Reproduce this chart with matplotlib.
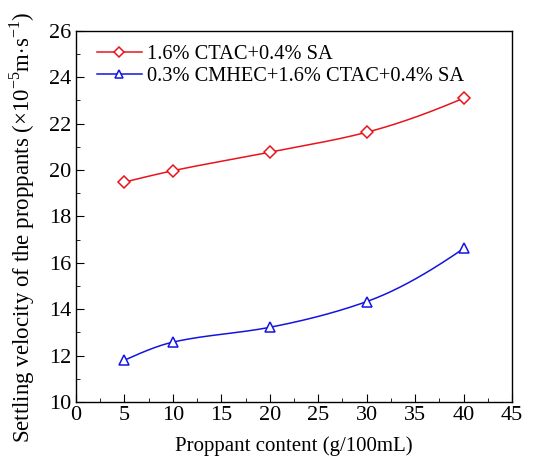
import numpy as np
import matplotlib
matplotlib.use("Agg")
import matplotlib.pyplot as plt
from matplotlib.ticker import MultipleLocator

plt.rcParams['font.family'] = ['Liberation Serif', 'DejaVu Serif']
plt.rcParams['mathtext.fontset'] = 'custom'
plt.rcParams['mathtext.rm'] = 'Liberation Serif'

content = [5, 10, 20, 30, 40]
red_vals = [19.48, 19.97, 20.77, 21.63, 23.1]
blue_vals = [11.8, 12.58, 13.22, 14.33, 16.62]
red_label = "1.6% CTAC+0.4% SA"
blue_label = "0.3% CMHEC+1.6% CTAC+0.4% SA"


def pchip(x, y, n=200):
    x = np.asarray(x, float)
    y = np.asarray(y, float)
    h = np.diff(x)
    d = np.diff(y) / h
    m = np.zeros_like(y)
    for i in range(1, len(x) - 1):
        if d[i - 1] * d[i] > 0:
            w1 = 2 * h[i] + h[i - 1]
            w2 = h[i] + 2 * h[i - 1]
            m[i] = (w1 + w2) / (w1 / d[i - 1] + w2 / d[i])
    m[0] = ((2 * h[0] + h[1]) * d[0] - h[0] * d[1]) / (h[0] + h[1])
    m[-1] = ((2 * h[-1] + h[-2]) * d[-1] - h[-1] * d[-2]) / (h[-1] + h[-2])
    xs = np.linspace(x[0], x[-1], n)
    ys = np.empty_like(xs)
    for k, xv in enumerate(xs):
        i = min(np.searchsorted(x, xv, side='right') - 1, len(x) - 2)
        t = (xv - x[i]) / h[i]
        h00 = 2 * t ** 3 - 3 * t ** 2 + 1
        h10 = t ** 3 - 2 * t ** 2 + t
        h01 = -2 * t ** 3 + 3 * t ** 2
        h11 = t ** 3 - t ** 2
        ys[k] = h00 * y[i] + h10 * h[i] * m[i] + h01 * y[i + 1] + h11 * h[i] * m[i + 1]
    return xs, ys


fig = plt.figure(figsize=(5.38, 4.61), dpi=100)
ax = fig.add_axes([0.141, 0.128, 0.811, 0.805])

for vals, color, marker, ms, label in [
        (red_vals, '#e8141c', 'D', 6, red_label),
        (blue_vals, '#1414e0', '^', 7, blue_label)]:
    xs, ys = pchip(content, vals)
    ax.plot(xs, ys, color=color, lw=1.1)
    ax.plot(content, vals, linestyle='none', marker=marker, ms=ms,
            mfc='white', mec=color, mew=1.1)
    ax.plot([], [], color=color, lw=1.1, marker=marker, ms=ms - 1,
            mfc='white', mec=color, mew=1.1, label=label)

ax.set_xlim(0, 45)
ax.set_ylim(10, 26)
ax.xaxis.set_major_locator(MultipleLocator(5))
ax.xaxis.set_minor_locator(MultipleLocator(2.5))
ax.yaxis.set_major_locator(MultipleLocator(2))
ax.yaxis.set_minor_locator(MultipleLocator(1))
ax.tick_params(which='both', direction='in', top=False, right=False,
               labelsize=16)
ax.tick_params(which='major', length=6, pad=3)
ax.tick_params(which='minor', length=3)
for s in ax.spines.values():
    s.set_linewidth(1.0)

ax.set_xlabel("Proppant content (g/100mL)", fontsize=15, labelpad=8)
ax.set_ylabel(r"Settling velocity of the proppants ($\times$10$^{-5}$m$\cdot$s$^{-1}$)",
              fontsize=16.5)
ax.yaxis.set_label_coords(-0.09, 0.47)

ax.legend(loc='upper left', frameon=False, fontsize=14.7, handlelength=2.2,
          borderaxespad=0.3, labelspacing=0.1, handletextpad=0.25,
          bbox_to_anchor=(0.015, 1.0))

fig.savefig("out.png", dpi=100)
